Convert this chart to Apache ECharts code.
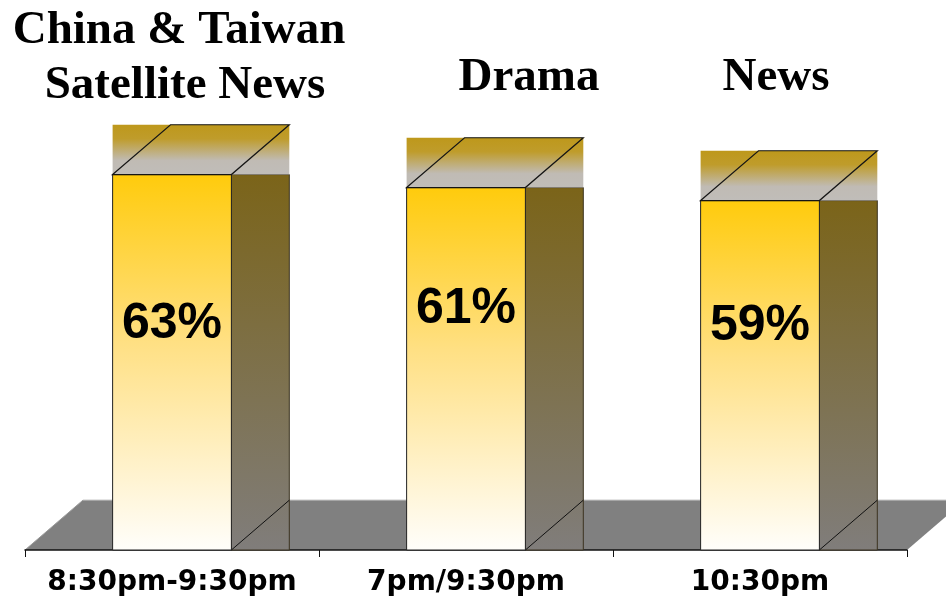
<!DOCTYPE html>
<html>
<head>
<meta charset="utf-8">
<script src="https://cdn.jsdelivr.net/npm/echarts@6/dist/echarts.min.js"></script>
<style>
  html, body { margin: 0; padding: 0; background: #ffffff; }
  #chart { width: 946px; height: 602px; }
</style>
</head>
<body>
<div id="chart"></div>
<script>
// Time slots along the category axis
const timeSlots = ['8:30pm-9:30pm', '7pm/9:30pm', '10:30pm'];
// Programme headings shown above each column (one entry per line)
const programmes = [['China & Taiwan', 'Satellite News'], ['Drama'], ['News']];
// Audience share, percent
const shares = [63, 61, 59];

// ---- layout constants ----
const Y_MIN = 5.3, Y_MAX = 70;
const BAR_FRAC = 0.404;      // front face width as a share of the category band
const DEPTH_FRAC = 0.197;    // oblique depth (x) as a share of the band
const DEPTH_SLOPE = 0.86;    // depth rise per unit of depth run
const LABEL_DROP = [150, 122, 125.5]; // value label centre, px below the column top
const TITLE_LINES = [        // [centre x, middle y] for each heading line
  [[179, 31], [185, 86]],
  [[529, 78]],
  [[776, 78]]
];

const LG = echarts.graphic.LinearGradient;
const frontFill = () => new LG(0, 0, 0, 1, [
  { offset: 0, color: '#ffcb0c' },
  { offset: 0.45, color: '#ffe084' },
  { offset: 1, color: '#fffefb' }
]);
const sideFill = () => new LG(0, 0, 0, 1, [
  { offset: 0, color: '#7b6419' },
  { offset: 1, color: '#807d7b' }
]);
const topFill = () => new LG(0, 0, 0, 1, [
  { offset: 0, color: '#be981b' },
  { offset: 0.28, color: '#bf9c2b' },
  { offset: 0.72, color: '#c0bbb4' },
  { offset: 1, color: '#c0bdb9' }
]);

function depth(api) {
  const band = api.size([1, 0])[0];
  const dx = band * DEPTH_FRAC;
  return { band, dx, dy: dx * DEPTH_SLOPE };
}

// Grey floor slab under the columns
function renderFloor(params, api) {
  const cs = params.coordSys;
  const { dx, dy } = depth(api);
  const x0 = cs.x, x1 = cs.x + cs.width, B = cs.y + cs.height;
  return {
    type: 'group',
    children: [
      { type: 'polygon',
        shape: { points: [[x0, B], [x0 + dx, B - dy], [x1 + dx, B - dy], [x1, B]] },
        style: { fill: '#808080' } },
      { type: 'line',
        shape: { x1: x0 + dx, y1: B - dy, x2: x1 + dx, y2: B - dy },
        style: { stroke: '#a9a9a9', lineWidth: 1 } },
      { type: 'line',
        shape: { x1: x0, y1: B, x2: x0 + dx, y2: B - dy },
        style: { stroke: '#9a9a9a', lineWidth: 1 } }
    ]
  };
}

// One oblique 3D column: side, front, top and the value label
function renderColumn(params, api) {
  const i = api.value(0);
  const v = api.value(1);
  const topPt = api.coord([i, v]);
  const basePt = api.coord([i, Y_MIN]);
  const { band, dx, dy } = depth(api);
  const w = band * BAR_FRAC;
  const L = topPt[0] - w / 2, R = topPt[0] + w / 2;
  const T = topPt[1], B = basePt[1];
  return {
    type: 'group',
    children: [
      { type: 'rect',
        shape: { x: R, y: T, width: dx, height: B - T },
        style: { fill: sideFill(), stroke: '#3b3320', lineWidth: 1 } },
      { type: 'line',
        shape: { x1: R, y1: B, x2: R + dx, y2: B - dy },
        style: { stroke: '#111111', lineWidth: 1 } },
      { type: 'rect',
        shape: { x: L, y: T, width: w, height: B - T },
        style: { fill: frontFill(), stroke: '#222222', lineWidth: 1 } },
      { type: 'rect',
        shape: { x: L, y: T - dy, width: w + dx, height: dy },
        style: { fill: topFill() } },
      { type: 'polygon',
        shape: { points: [[L, T], [L + dx, T - dy], [R + dx, T - dy], [R, T]] },
        style: { fill: 'none', stroke: '#151515', lineWidth: 1.2 } },
      { type: 'text',
        style: {
          text: v + '%',
          x: (L + R) / 2,
          y: T + LABEL_DROP[i],
          align: 'center',
          verticalAlign: 'middle',
          font: 'bold 50px "Liberation Sans", Arial, sans-serif',
          fill: '#000000'
        } }
    ]
  };
}

const headingGraphics = [];
programmes.forEach((lines, i) => {
  lines.forEach((line, j) => {
    const [x, y] = TITLE_LINES[i][j];
    headingGraphics.push({
      type: 'text',
      x: x,
      y: y,
      style: {
        text: line,
        align: 'center',
        verticalAlign: 'middle',
        font: 'bold 47px "Liberation Serif", "Times New Roman", serif',
        fill: '#000000'
      }
    });
  });
});

const chart = echarts.init(document.getElementById('chart'), null, { renderer: 'canvas' });
chart.setOption({
  animation: false,
  backgroundColor: '#ffffff',
  grid: { left: 25, right: 39, top: 129, bottom: 52 },
  xAxis: {
    type: 'category',
    data: timeSlots,
    boundaryGap: true,
    axisLine: { lineStyle: { color: '#111111', width: 1.5 } },
    axisTick: { show: true, interval: 0, length: 7, lineStyle: { color: '#111111', width: 1 } },
    axisLabel: {
      interval: 0,
      margin: 19,
      color: '#000000',
      fontFamily: '"DejaVu Sans", sans-serif',
      fontWeight: 'bold',
      fontSize: 28
    }
  },
  yAxis: { type: 'value', min: Y_MIN, max: Y_MAX, show: false },
  graphic: headingGraphics,
  series: [
    {
      type: 'custom',
      z: -1,
      renderItem: renderFloor,
      data: [[0, Y_MIN]],
      silent: true
    },
    {
      type: 'custom',
      z: 2,
      renderItem: renderColumn,
      encode: { x: 0, y: 1 },
      data: shares.map((s, i) => [i, s]),
      silent: true
    }
  ]
});
</script>
</body>
</html>
